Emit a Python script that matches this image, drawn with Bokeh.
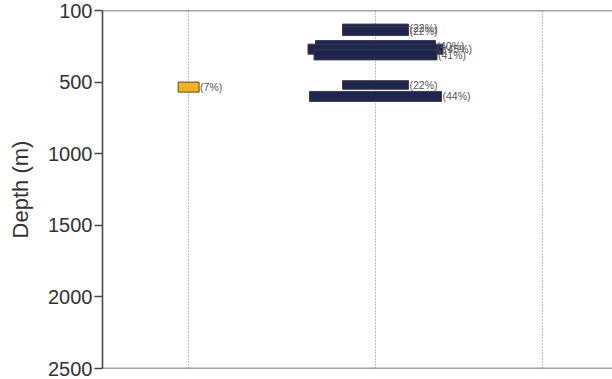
from bokeh.plotting import figure
from bokeh.models import Range1d, FixedTicker, Span, Grid, ColumnDataSource
from bokeh.core.properties import value
from bokeh.embed import file_html
from bokeh.resources import INLINE

# Column centres of the three sites (x is measured in percent-width units)
site_x = [28.7, 91.0, 146.7]

# Depth intervals (m) and their percentage shares; bar width equals the share
site_idx = [1, 1, 1, 1, 1, 1, 1, 0]
share_pct = [22, 22, 40, 45, 41, 22, 44, 7]
depth_top = [95, 115, 210, 235, 275, 490, 565, 500]
depth_bottom = [155, 175, 280, 305, 345, 550, 635, 570]
bar_colors = ["#1f2550"] * 7 + ["#efb02a"]
edge_colors = ["#3c3c46"] * 7 + ["#5e4a1c"]

depth_ticks = [0, 500, 1000, 1500, 2000, 2500]
depth_tick_labels = ["100", "500", "1000", "1500", "2000", "2500"]

centre = [site_x[i] for i in site_idx]
src = ColumnDataSource(dict(
    left=[c - s / 2 for c, s in zip(centre, share_pct)],
    right=[c + s / 2 for c, s in zip(centre, share_pct)],
    top=depth_top,
    bottom=depth_bottom,
    mid=[(a + b) / 2 for a, b in zip(depth_top, depth_bottom)],
    label=["(%d%%)" % s for s in share_pct],
    fill=bar_colors,
    edge=edge_colors,
))

p = figure(width=612, height=379, output_backend="svg", toolbar_location=None,
           x_range=Range1d(0, 170), y_range=Range1d(2500, 0),
           x_axis_location=None, min_border_left=102, min_border_right=0,
           min_border_top=10, min_border_bottom=11)
p.outline_line_color = None
p.background_fill_color = "white"
p.border_fill_color = "white"
p.grid.visible = False

# dotted site guides
p.add_layout(Grid(dimension=0, ticker=FixedTicker(ticks=site_x),
                  grid_line_color="#7a7a7a", grid_line_width=1,
                  grid_line_dash="1 2"))

# top and bottom frame lines
for loc in (0, 2500):
    p.add_layout(Span(location=loc, dimension="width",
                      line_color="#4a4a4a", line_width=1.6))

ax = p.yaxis[0]
ax.ticker = FixedTicker(ticks=depth_ticks)
ax.major_label_overrides = {t: l for t, l in zip(depth_ticks, depth_tick_labels)}
ax.axis_label = "Depth (m)"
ax.axis_label_text_font = "Liberation Sans"
ax.axis_label_text_font_size = "22px"
ax.axis_label_text_font_style = "normal"
ax.axis_label_text_color = "#333333"
ax.axis_label_standoff = 12
ax.major_label_text_font = "Liberation Sans"
ax.major_label_text_font_size = "20px"
ax.major_label_text_color = "#333333"
ax.major_label_standoff = 2
ax.major_tick_out = 8
ax.major_tick_in = 0
ax.minor_tick_out = 0
ax.minor_tick_in = 0
ax.axis_line_color = "#4a4a4a"
ax.axis_line_width = 1.6
ax.major_tick_line_color = "#4a4a4a"
ax.major_tick_line_width = 1.4

p.quad(left="left", right="right", top="top", bottom="bottom", source=src,
       fill_color="fill", line_color="edge", line_width=1)

p.text(x="right", y="mid", text="label", source=src, x_offset=1,
       text_font=value("Liberation Sans"), text_font_size="10.5px",
       text_color="#555555", text_baseline="middle", text_align="left")

open("out.html", "w").write(file_html(p, INLINE))
